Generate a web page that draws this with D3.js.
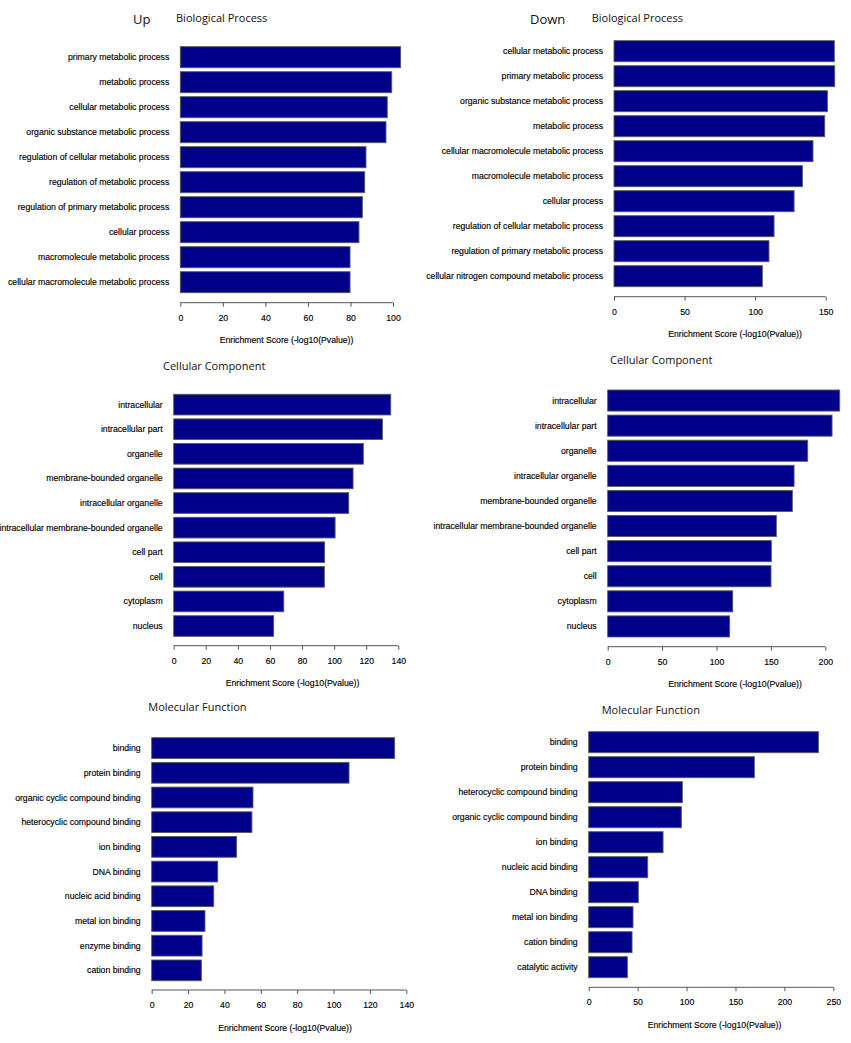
<!DOCTYPE html>
<html>
<head>
<meta charset="utf-8">
<script src="https://cdn.jsdelivr.net/npm/d3@7"></script>
<style>
  html, body { margin: 0; padding: 0; background: #fff; }
  svg { display: block; }
  .term, .tick text, .xlab { font-family: "Liberation Sans", Arial, sans-serif; font-size: 8.7px; fill: #000;
          stroke: #000; stroke-width: 0.15px; }
  .title { font-family: "Open Sans", sans-serif; font-size: 11px; fill: #111; }
  .side { font-family: "Open Sans", sans-serif; font-size: 13px; fill: #111; }
</style>
</head>
<body>
<script>
'use strict';

// ---- data ----
var upBPTerms = ["primary metabolic process", "metabolic process", "cellular metabolic process",
    "organic substance metabolic process", "regulation of cellular metabolic process",
    "regulation of metabolic process", "regulation of primary metabolic process",
    "cellular process", "macromolecule metabolic process", "cellular macromolecule metabolic process"];
var upBPValues = [103.6, 99.4, 97.3, 96.7, 87.3, 86.7, 85.6, 84.0, 79.8, 79.8];
var upBPTicks = [0, 20, 40, 60, 80, 100];

var downBPTerms = ["cellular metabolic process", "primary metabolic process",
    "organic substance metabolic process", "metabolic process",
    "cellular macromolecule metabolic process", "macromolecule metabolic process",
    "cellular process", "regulation of cellular metabolic process",
    "regulation of primary metabolic process", "cellular nitrogen compound metabolic process"];
var downBPValues = [156.1, 156.4, 151.2, 149.3, 141.0, 133.5, 127.6, 113.4, 109.8, 105.1];
var downBPTicks = [0, 50, 100, 150];

var upCCTerms = ["intracellular", "intracellular part", "organelle", "membrane-bounded organelle",
    "intracellular organelle", "intracellular membrane-bounded organelle", "cell part", "cell",
    "cytoplasm", "nucleus"];
var upCCValues = [135.3, 130.1, 118.2, 111.8, 109.1, 100.6, 94.1, 93.9, 68.6, 62.3];
var upCCTicks = [0, 20, 40, 60, 80, 100, 120, 140];

var downCCTerms = ["intracellular", "intracellular part", "organelle", "intracellular organelle",
    "membrane-bounded organelle", "intracellular membrane-bounded organelle", "cell part", "cell",
    "cytoplasm", "nucleus"];
var downCCValues = [213.2, 206.2, 183.8, 171.3, 169.7, 155.0, 150.4, 150.1, 114.9, 112.1];
var downCCTicks = [0, 50, 100, 150, 200];

var upMFTerms = ["binding", "protein binding", "organic cyclic compound binding",
    "heterocyclic compound binding", "ion binding", "DNA binding", "nucleic acid binding",
    "metal ion binding", "enzyme binding", "cation binding"];
var upMFValues = [133.6, 108.5, 55.7, 55.1, 46.7, 36.3, 34.1, 29.3, 27.7, 27.3];
var upMFTicks = [0, 20, 40, 60, 80, 100, 120, 140];

var downMFTerms = ["binding", "protein binding", "heterocyclic compound binding",
    "organic cyclic compound binding", "ion binding", "nucleic acid binding", "DNA binding",
    "metal ion binding", "cation binding", "catalytic activity"];
var downMFValues = [234.8, 169.3, 95.7, 94.7, 76.0, 60.3, 50.7, 45.3, 44.3, 39.5];
var downMFTicks = [0, 50, 100, 150, 200, 250];

var xLabel = "Enrichment Score (-log10(Pvalue))";

// ---- layout of the six panels ----
var panels = [
    {title: "Biological  Process", side: "Up", terms: upBPTerms, values: upBPValues, ticks: upBPTicks,
     x0: 180.3, x1: 393, top: 46.7, pitch: 25, axisY: 302.7, labX: 286.5,
     titleX: 176, titleY: 22, sideX: 133, sideY: 24},
    {title: "Biological  Process", side: "Down", terms: downBPTerms, values: downBPValues, ticks: downBPTicks,
     x0: 614, x1: 825.7, top: 40.7, pitch: 25, axisY: 296.7, labX: 735,
     titleX: 591.7, titleY: 22, sideX: 530, sideY: 24},
    {title: "Cellular Component", terms: upCCTerms, values: upCCValues, ticks: upCCTicks,
     x0: 173.7, x1: 398.3, top: 394.3, pitch: 24.6, axisY: 645.7, labX: 292.5,
     titleX: 163, titleY: 370},
    {title: "Cellular Component", terms: downCCTerms, values: downCCValues, ticks: downCCTicks,
     x0: 607.7, x1: 825.3, top: 390, pitch: 25.1, axisY: 646.7, labX: 735,
     titleX: 610, titleY: 364},
    {title: "Molecular Function", terms: upMFTerms, values: upMFValues, ticks: upMFTicks,
     x0: 151.7, x1: 406.3, top: 737.7, pitch: 24.7, axisY: 990, labX: 285,
     titleX: 148.3, titleY: 710.5},
    {title: "Molecular Function", terms: downMFTerms, values: downMFValues, ticks: downMFTicks,
     x0: 588.7, x1: 833.3, top: 731.7, pitch: 25, axisY: 987.3, labX: 714.5,
     titleX: 601.7, titleY: 714}
];

var W = 851, H = 1043;
var svg = d3.select("body").append("svg").attr("width", W).attr("height", H);

panels.forEach(function(p) {
    var g = svg.append("g");
    var n = p.terms.length;
    var pad = 0.16;

    var x = d3.scaleLinear()
        .domain([0, p.ticks[p.ticks.length - 1]])
        .range([p.x0, p.x1]);
    var y = d3.scaleBand()
        .domain(p.terms)
        .range([p.top, p.top + p.pitch * (n - pad)])
        .paddingInner(pad)
        .paddingOuter(0);

    // bars
    g.selectAll("rect.bar").data(p.terms).enter().append("rect")
        .attr("class", "bar")
        .attr("x", x(0))
        .attr("y", function(d) { return y(d); })
        .attr("width", function(d, i) { return x(p.values[i]) - x(0); })
        .attr("height", y.bandwidth())
        .style("fill", "#00008B")
        .style("stroke", "#5a5a55")
        .style("stroke-width", 0.9);

    // category labels
    g.selectAll("text.term").data(p.terms).enter().append("text")
        .attr("class", "term")
        .attr("x", p.x0 - 11)
        .attr("y", function(d) { return y(d) + y.bandwidth() / 2; })
        .attr("dy", "0.35em")
        .attr("text-anchor", "end")
        .text(function(d) { return d; });

    // x axis, R style: ticks point down
    var ax = g.append("g")
        .attr("transform", "translate(0," + p.axisY + ")")
        .call(d3.axisBottom(x).tickValues(p.ticks).tickSize(4).tickSizeOuter(0).tickPadding(8));
    ax.select(".domain").attr("stroke", "#555").attr("d",
        "M" + x(0) + ",0H" + x(p.ticks[p.ticks.length - 1]));
    ax.selectAll(".tick line").attr("stroke", "#555");

    g.append("text")
        .attr("class", "xlab")
        .attr("x", p.labX)
        .attr("y", p.axisY + 40.5)
        .attr("text-anchor", "middle")
        .text(xLabel);

    g.append("text")
        .attr("class", "title")
        .attr("x", p.titleX)
        .attr("y", p.titleY)
        .text(p.title);

    if (p.side) {
        g.append("text")
            .attr("class", "side")
            .attr("x", p.sideX)
            .attr("y", p.sideY)
            .text(p.side);
    }
});
</script>
</body>
</html>
